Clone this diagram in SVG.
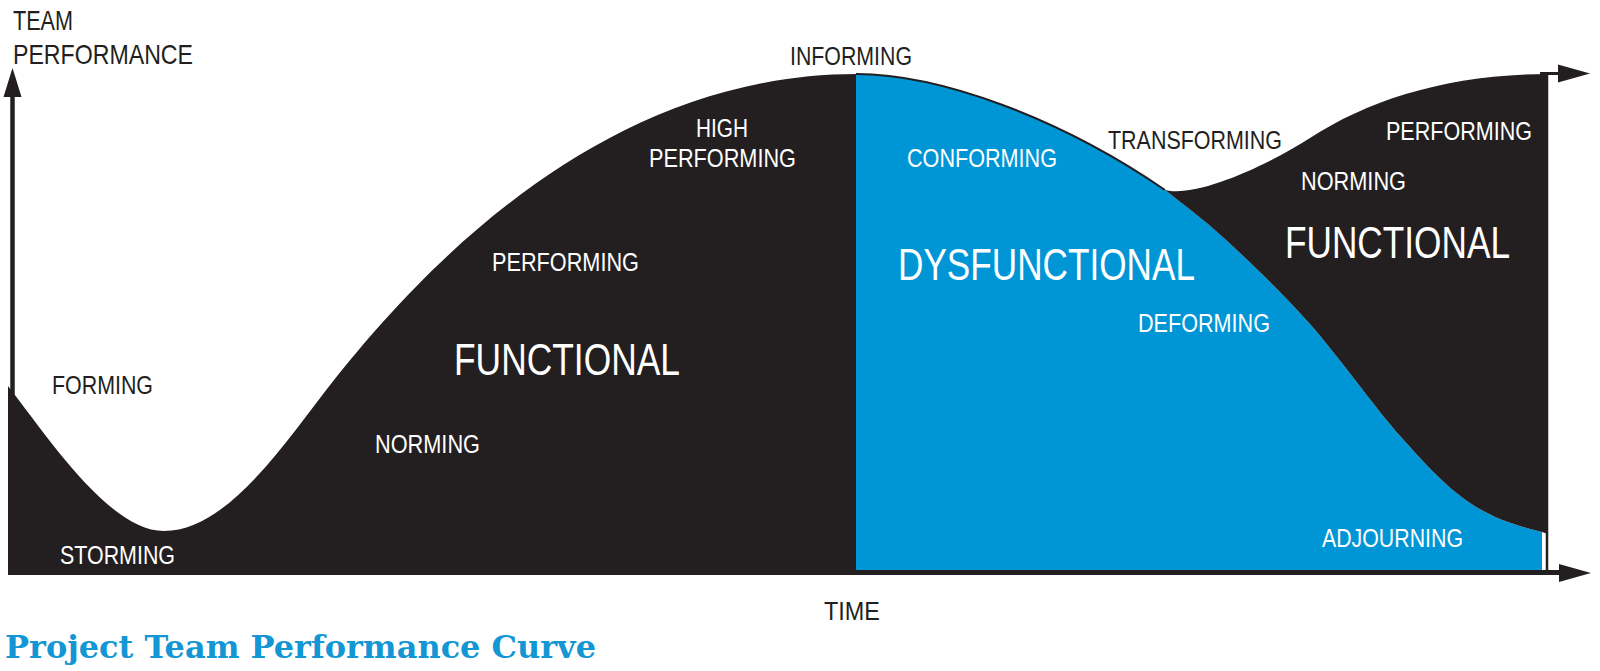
<svg xmlns="http://www.w3.org/2000/svg" width="1600" height="671" viewBox="0 0 1600 671">
<style>
.t{font-family:"Liberation Sans",Arial,Helvetica,sans-serif;}
.s{font-size:25px;}
.b{font-size:44px;}
.a{font-size:28px;}
.w{fill:#ffffff;}
.d{fill:#231f20;}
.ax{stroke:#231f20;fill:none;}
</style>
<rect width="1600" height="671" fill="#ffffff"/>
<g id="region-functional-left">
<path d="M 8 386 C 50 440, 110 531, 164 531 C 230 531, 290 435, 334 380 C 420 272.5, 600 74, 857 74 L 857 572 L 8 572 Z" fill="#231f20"/>
</g>
<g id="region-dysfunctional">
<path d="M 856 74 C 940 74, 1060 118, 1165 190 C 1185 206, 1202 217.8, 1226 240 C 1250 262.2, 1279.8 290.2, 1309 323 C 1338.2 355.8, 1374.2 407, 1401 437 C 1427.8 467, 1446.7 487.2, 1470 503 C 1493.3 518.8, 1518 526, 1542 532 L 1542 572 L 856 572 Z" fill="#0096d6"/>
</g>
<g id="region-functional-right">
<path d="M 1165 190 C 1195 198, 1265 167, 1310 138 C 1370 99, 1450 74, 1548 74 L 1548 534 L 1542 532 C 1518 526, 1493.3 518.8, 1470 503 C 1446.7 487.2, 1427.8 467, 1401 437 C 1374.2 407, 1338.2 355.8, 1309 323 C 1279.8 290.2, 1250 262.2, 1226 240 C 1202 217.8, 1185 206, 1165 190 Z" fill="#231f20"/>
</g>
<g id="connectors">
<path class="ax" stroke-width="2" d="M 856 74 C 940 74, 1060 118, 1165 190"/>
<line class="ax" x1="12.5" y1="92" x2="12.5" y2="574" stroke-width="4.5"/>
<polygon points="3.5,97 12.5,68 21.5,97" fill="#231f20"/>
<line class="ax" x1="8" y1="572.5" x2="1565" y2="572.5" stroke-width="5"/>
<polygon points="1559,564 1591,573 1559,582" fill="#231f20"/>
<line class="ax" x1="1547" y1="75" x2="1547" y2="572" stroke-width="2.5"/>
<line class="ax" x1="1540" y1="73.5" x2="1565" y2="73.5" stroke-width="3"/>
<polygon points="1558,64.5 1590,73.5 1558,82.5" fill="#231f20"/>
</g>
<g id="axis-labels">
<text class="t a d" x="13" y="30" textLength="60" lengthAdjust="spacingAndGlyphs">TEAM</text>
<text class="t a d" x="13" y="64" textLength="180" lengthAdjust="spacingAndGlyphs">PERFORMANCE</text>
<text class="t s d" x="824" y="620" textLength="56" lengthAdjust="spacingAndGlyphs">TIME</text>
</g>
<g id="label-forming"><text class="t s d" x="52" y="394" textLength="101" lengthAdjust="spacingAndGlyphs">FORMING</text></g>
<g id="label-storming"><text class="t s w" x="60" y="564" textLength="115" lengthAdjust="spacingAndGlyphs">STORMING</text></g>
<g id="label-norming-left"><text class="t s w" x="375" y="453" textLength="105" lengthAdjust="spacingAndGlyphs">NORMING</text></g>
<g id="label-functional-left"><text class="t b w" x="454" y="375" textLength="226" lengthAdjust="spacingAndGlyphs">FUNCTIONAL</text></g>
<g id="label-performing-mid"><text class="t s w" x="492" y="271" textLength="147" lengthAdjust="spacingAndGlyphs">PERFORMING</text></g>
<g id="label-high-performing">
<text class="t s w" x="696" y="137" textLength="52" lengthAdjust="spacingAndGlyphs">HIGH</text>
<text class="t s w" x="649" y="167" textLength="147" lengthAdjust="spacingAndGlyphs">PERFORMING</text>
</g>
<g id="label-informing"><text class="t s d" x="790" y="65" textLength="122" lengthAdjust="spacingAndGlyphs">INFORMING</text></g>
<g id="label-conforming"><text class="t s w" x="907" y="167" textLength="150" lengthAdjust="spacingAndGlyphs">CONFORMING</text></g>
<g id="label-dysfunctional"><text class="t b w" x="898" y="280" textLength="297" lengthAdjust="spacingAndGlyphs">DYSFUNCTIONAL</text></g>
<g id="label-transforming"><text class="t s d" x="1108" y="149" textLength="174" lengthAdjust="spacingAndGlyphs">TRANSFORMING</text></g>
<g id="label-deforming"><text class="t s w" x="1138" y="332" textLength="132" lengthAdjust="spacingAndGlyphs">DEFORMING</text></g>
<g id="label-performing-right"><text class="t s w" x="1386" y="140" textLength="146" lengthAdjust="spacingAndGlyphs">PERFORMING</text></g>
<g id="label-norming-right"><text class="t s w" x="1301" y="190" textLength="105" lengthAdjust="spacingAndGlyphs">NORMING</text></g>
<g id="label-functional-right"><text class="t b w" x="1285" y="258" textLength="225" lengthAdjust="spacingAndGlyphs">FUNCTIONAL</text></g>
<g id="label-adjourning"><text class="t s w" x="1322" y="547" textLength="141" lengthAdjust="spacingAndGlyphs">ADJOURNING</text></g>
<g id="title"><text x="5" y="658" font-family="'DejaVu Serif',serif" font-weight="bold" font-size="31" fill="#1296d4" textLength="591" lengthAdjust="spacingAndGlyphs">Project Team Performance Curve</text></g>
</svg>
